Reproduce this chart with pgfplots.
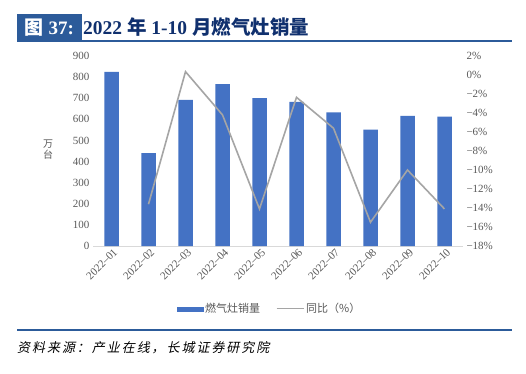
\documentclass[border=0pt]{standalone}
\usepackage{fontspec}
\setmainfont{Liberation Serif}
\newfontfamily\cjk{Noto Sans CJK SC}
\newfontfamily\cjkit[FakeSlant=0.2]{Noto Sans CJK SC}
\usepackage{pgfplots}
\pgfplotsset{compat=1.18}
\definecolor{barblue}{HTML}{4472C4}
\definecolor{linegray}{HTML}{A5A5A5}
\definecolor{tickgray}{HTML}{595959}
\definecolor{hdrblue}{HTML}{2C5B9A}
\definecolor{navy}{HTML}{10306E}
\definecolor{axgray}{HTML}{D9D9D9}
\begin{document}
\begin{tikzpicture}[x=1pt,y=1pt]
\fill[white] (0,0) rectangle (526,373);
% header
\fill[hdrblue] (17,331.5) rectangle (82,359);
\draw[hdrblue, line width=2pt] (17,332) -- (512,332);
\node[white, font=\fontsize{19}{22}\selectfont\bfseries, anchor=center, inner sep=0] at (49.5,345.5) {{\cjk\bfseries 图} 37:};
\node[navy, font=\fontsize{19.5}{22}\selectfont\bfseries, anchor=west, inner sep=0] at (83,345.5) {2022 {\cjk\bfseries 年} 1-10 {\cjk\bfseries 月燃气灶销量}};
% y label
\node[tickgray, font=\cjk\fontsize{10}{11}\selectfont, align=center, inner sep=0] at (48,223) {万\\台};
% bar axis
\begin{axis}[
  at={(93pt,127pt)}, anchor=south west,
  scale only axis, width=370pt, height=190pt,
  xmin=-0.5, xmax=9.5, ymin=0, ymax=900,
  axis x line*=bottom, axis y line*=left,
  x axis line style={draw=axgray, line width=1pt},
  y axis line style={draw=none},
  major tick length=0pt,
  ytick={0,100,...,900},
  xtick={0,...,9},
  xticklabels={2022–01,2022–02,2022–03,2022–04,2022–05,2022–06,2022–07,2022–08,2022–09,2022–10},
  xticklabel style={rotate=45, anchor=east, font=\fontsize{11}{12}\selectfont, text=tickgray, xshift=3pt, yshift=-6pt},
  yticklabel style={font=\fontsize{11}{12}\selectfont, text=tickgray},
  /pgf/number format/assume math mode=true,
  clip=false,
]
\addplot[ybar, bar width=14.5pt, bar shift=0pt, fill=barblue, draw=none] coordinates {
(0,825) (1,440) (2,692) (3,767) (4,701) (5,683) (6,633) (7,551) (8,616) (9,613)};
\end{axis}
% line axis
\begin{axis}[
  at={(93pt,127pt)}, anchor=south west,
  scale only axis, width=370pt, height=190pt,
  xmin=-0.5, xmax=9.5, ymin=-18, ymax=2,
  axis x line=none, axis y line*=right,
  y axis line style={draw=none},
  major tick length=0pt,
  ytick={-18,-16,...,2},
  yticklabels={−18\%,−16\%,−14\%,−12\%,−10\%,−8\%,−6\%,−4\%,−2\%,0\%,2\%},
  yticklabel style={font=\fontsize{11}{12}\selectfont, text=tickgray},
  clip=false,
  legend style={at={(0.477,-0.33)}, anchor=center, draw=none, fill=none, legend columns=2,
    font=\cjk\fontsize{11}{12}\selectfont, text=tickgray,
    /tikz/every even column/.append style={column sep=14pt}},
]
\addlegendimage{legend image code/.code={\fill[barblue] (0pt,-2pt) rectangle (26pt,2pt);}}
\addlegendentry{燃气灶销量}
\addlegendimage{legend image code/.code={\draw[linegray, line width=1.2pt] (0pt,0pt) -- (27pt,0pt);}}
\addlegendentry{同比（\%）}
\addplot[linegray, line width=1.6pt, mark=none] coordinates {
(1,-13.6) (2,0.35) (3,-4.2) (4,-14.1) (5,-2.35) (6,-5.6) (7,-15.5) (8,-10.0) (9,-14.1)};
\end{axis}
% footer
\draw[hdrblue, line width=1.5pt] (17,43) -- (512,43);
\node[anchor=west, inner sep=0, font=\cjkit\fontsize{13}{14}\selectfont\addfontfeature{LetterSpace=15}] at (17,25) {资料来源：产业在线，长城证券研究院};
\end{tikzpicture}
\end{document}
